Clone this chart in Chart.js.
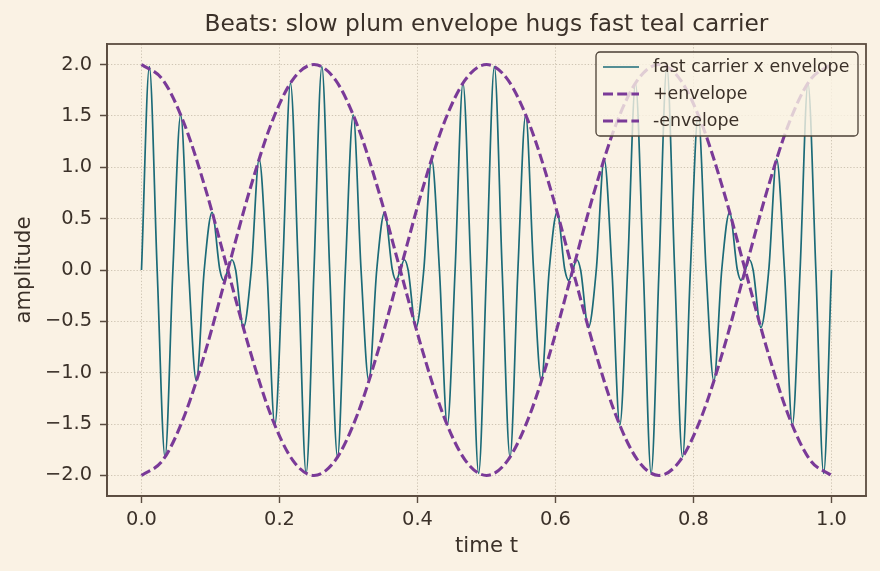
<!DOCTYPE html>
<html>
<head>
<meta charset="utf-8">
<script src="https://cdn.jsdelivr.net/npm/chart.js@4.4.1/dist/chart.umd.min.js"></script>
<style>
  html, body { margin: 0; padding: 0; background: #faf2e4; }
  #wrap { width: 880px; height: 571px; }
</style>
</head>
<body>
<div id="wrap"><canvas id="beatChart" width="880" height="571"></canvas></div>
<script>
// carrier x envelope: zero crossings and peaks
const carrierT = [0, 0.0114, 0.0227, 0.0341, 0.0455, 0.0568, 0.0682, 0.0795, 0.0909, 0.1023, 0.1136, 0.119, 0.125, 0.131, 0.1364,
  0.1477, 0.1591, 0.1705, 0.1818, 0.1932, 0.2045, 0.2159, 0.2273, 0.2386, 0.25, 0.2614, 0.2727, 0.2841, 0.2955, 0.3068, 0.3182, 0.3295, 0.3409, 0.3523, 0.3636,
  0.369, 0.375, 0.381,
  0.3864, 0.3977, 0.4091, 0.4205, 0.4318, 0.4432, 0.4545, 0.4659, 0.4773, 0.4886, 0.5, 0.5114, 0.5227, 0.5341, 0.5455, 0.5568, 0.5682, 0.5795, 0.5909, 0.6023, 0.6136,
  0.619, 0.625, 0.631,
  0.6364, 0.6477, 0.6591, 0.6705, 0.6818, 0.6932, 0.7045, 0.7159, 0.7273, 0.7386, 0.75, 0.7614, 0.7727, 0.7841, 0.7955, 0.8068, 0.8182, 0.8295, 0.8409, 0.8523, 0.8636,
  0.869, 0.875, 0.881,
  0.8864, 0.8977, 0.9091, 0.9205, 0.9318, 0.9432, 0.9545, 0.9659, 0.9773, 0.9886, 1.0];
const carrierY = [0, 1.98, 0, -1.82, 0, 1.51, 0, -1.08, 0, 0.56, 0, -0.10, 0, 0.10, 0,
  -0.56, 0, 1.08, 0, -1.51, 0, 1.82, 0, -1.98, 0, 1.98, 0, -1.82, 0, 1.51, 0, -1.08, 0, 0.56, 0,
  -0.10, 0, 0.10,
  0, -0.56, 0, 1.08, 0, -1.51, 0, 1.82, 0, -1.98, 0, 1.98, 0, -1.82, 0, 1.51, 0, -1.08, 0, 0.56, 0,
  -0.10, 0, 0.10,
  0, -0.56, 0, 1.08, 0, -1.51, 0, 1.82, 0, -1.98, 0, 1.98, 0, -1.82, 0, 1.51, 0, -1.08, 0, 0.56, 0,
  -0.10, 0, 0.10,
  0, -0.56, 0, 1.08, 0, -1.51, 0, 1.82, 0, -1.98, 0];

const envT = [0, 0.0313, 0.0625, 0.0938, 0.125, 0.1563, 0.1875, 0.2188, 0.25, 0.2813, 0.3125, 0.3438, 0.375, 0.4063, 0.4375, 0.4688,
  0.5, 0.5313, 0.5625, 0.5938, 0.625, 0.6563, 0.6875, 0.7188, 0.75, 0.7813, 0.8125, 0.8438, 0.875, 0.9063, 0.9375, 0.9688, 1.0];
const envPlus = [2, 1.848, 1.414, 0.765, 0, -0.765, -1.414, -1.848, -2, -1.848, -1.414, -0.765, 0, 0.765, 1.414, 1.848,
  2, 1.848, 1.414, 0.765, 0, -0.765, -1.414, -1.848, -2, -1.848, -1.414, -0.765, 0, 0.765, 1.414, 1.848, 2];
const envMinus = [-2, -1.848, -1.414, -0.765, 0, 0.765, 1.414, 1.848, 2, 1.848, 1.414, 0.765, 0, -0.765, -1.414, -1.848,
  -2, -1.848, -1.414, -0.765, 0, 0.765, 1.414, 1.848, 2, 1.848, 1.414, 0.765, 0, -0.765, -1.414, -1.848, -2];

const xTicks = [0, 0.2, 0.4, 0.6, 0.8, 1.0];
const yTicks = [-2, -1.5, -1, -0.5, 0, 0.5, 1, 1.5, 2];
const seriesNames = ["fast carrier x envelope", "+envelope", "-envelope"];

const TEAL = "#1c6b78";
const PLUM = "#7a3a98";
const INK = "#3b3129";
const FRAME = "#5b4d40";
const FONT = "'DejaVu Sans', sans-serif";
const DASH = [10, 4.2];

function pts(xs, ys) {
  return xs.map((x, i) => ({ x: x, y: ys[i] }));
}

function fmt(v) {
  let s = Number(v).toFixed(1);
  return s.replace("-", "\u2212");
}

// title, frame and legend drawn like matplotlib
const decor = {
  id: "decor",
  afterDraw(chart) {
    const c = chart.ctx;
    const a = chart.chartArea;
    c.save();
    c.setLineDash([]);
    c.strokeStyle = FRAME;
    c.lineWidth = 1.8;
    c.strokeRect(a.left, a.top, a.right - a.left, a.bottom - a.top);

    c.fillStyle = INK;
    c.font = "23.3px " + FONT;
    c.textAlign = "center";
    c.textBaseline = "middle";
    c.fillText("Beats: slow plum envelope hugs fast teal carrier", (a.left + a.right) / 2, 25);

    // legend box
    const bx = 596, by = 52, bw = 262, bh = 84;
    c.beginPath();
    c.roundRect(bx, by, bw, bh, 4);
    c.fillStyle = "rgba(250, 242, 228, 0.8)";
    c.fill();
    c.strokeStyle = "#4a3f35";
    c.lineWidth = 1.3;
    c.stroke();

    const rows = [67, 94, 121];
    c.font = "17.4px " + FONT;
    c.textAlign = "left";
    rows.forEach((ry, i) => {
      c.beginPath();
      c.moveTo(603, ry);
      c.lineTo(639, ry);
      if (i === 0) {
        c.setLineDash([]);
        c.strokeStyle = TEAL;
        c.lineWidth = 1.7;
      } else {
        c.setLineDash(DASH);
        c.strokeStyle = PLUM;
        c.lineWidth = 3.1;
      }
      c.stroke();
      c.setLineDash([]);
      c.fillStyle = INK;
      c.fillText(seriesNames[i], 653, ry);
    });
    c.restore();
  }
};

function gridOpts() {
  return {
    color: "#c9bfae",
    lineWidth: 0.9,
    tickColor: FRAME,
    tickLength: 7,
    tickWidth: 1.4,
    tickBorderDash: [1, 0]
  };
}

const ctx = document.getElementById("beatChart").getContext("2d");

const beatChart = new Chart(ctx, {
  type: "scatter",
  data: {
    datasets: [
      {
        label: seriesNames[0],
        data: pts(carrierT, carrierY),
        showLine: true,
        borderColor: TEAL,
        borderWidth: 1.7,
        pointRadius: 0,
        cubicInterpolationMode: "monotone",
        order: 2
      },
      {
        label: seriesNames[1],
        data: pts(envT, envPlus),
        showLine: true,
        borderColor: PLUM,
        borderWidth: 3.1,
        borderDash: DASH,
        pointRadius: 0,
        cubicInterpolationMode: "monotone",
        order: 1
      },
      {
        label: seriesNames[2],
        data: pts(envT, envMinus),
        showLine: true,
        borderColor: PLUM,
        borderWidth: 3.1,
        borderDash: DASH,
        pointRadius: 0,
        cubicInterpolationMode: "monotone",
        order: 1
      }
    ]
  },
  options: {
    responsive: false,
    animation: false,
    layout: { padding: { left: 8, right: 14, top: 44, bottom: 8 } },
    scales: {
      x: {
        type: "linear",
        min: -0.05,
        max: 1.05,
        afterBuildTicks: s => { s.ticks = xTicks.map(v => ({ value: v })); },
        afterFit: s => { s.height = 67; },
        grid: gridOpts(),
        border: { display: true, color: FRAME, width: 1.8, dash: [1.3, 1.9] },
        ticks: {
          color: INK,
          font: { family: FONT, size: 19.4 },
          padding: 5,
          maxRotation: 0,
          callback: v => fmt(v)
        },
        title: {
          display: true,
          text: "time t",
          color: INK,
          font: { family: FONT, size: 21.2 }
        }
      },
      y: {
        type: "linear",
        min: -2.2,
        max: 2.2,
        afterBuildTicks: s => { s.ticks = yTicks.map(v => ({ value: v })); },
        afterFit: s => { s.width = 99; },
        grid: gridOpts(),
        border: { display: true, color: FRAME, width: 1.8, dash: [1.3, 1.9] },
        ticks: {
          color: INK,
          font: { family: FONT, size: 19.4 },
          padding: 8,
          callback: v => fmt(v)
        },
        title: {
          display: true,
          text: "amplitude",
          color: INK,
          font: { family: FONT, size: 21.2 }
        }
      }
    },
    plugins: {
      legend: { display: false },
      title: { display: false },
      tooltip: { enabled: false }
    }
  },
  plugins: [decor]
});
</script>
</body>
</html>
